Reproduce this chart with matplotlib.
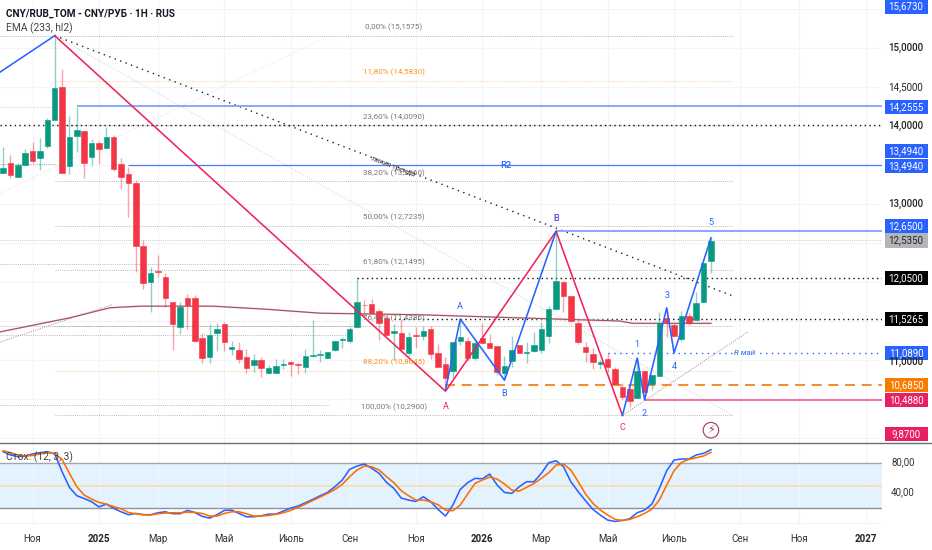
import matplotlib
matplotlib.use('Agg')
import matplotlib.pyplot as plt
from matplotlib.patches import Rectangle

plt.rcParams['font.family'] = ['Roboto', 'DejaVu Sans']

# weekly candles
opens = [13.40, 13.53, 13.35, 13.50, 13.68, 13.59, 13.74, 14.08, 14.50, 13.49, 13.87, 13.94, 13.60, 13.78, 13.72, 13.86,
         13.51, 13.38, 13.27, 12.46, 12.00, 12.14, 12.06, 11.74, 11.42, 11.80, 11.80, 11.28, 11.04, 11.35, 11.46, 11.14,
         11.13, 11.04, 10.94, 11.00, 10.83, 10.83, 10.94, 10.97, 10.95, 10.91, 11.05, 11.06, 11.03, 11.13, 11.26, 11.24,
         11.42, 11.71, 11.72, 11.63, 11.54, 11.35, 11.35, 11.09, 11.32, 11.31, 11.40, 11.09, 10.95, 10.86, 11.24, 11.24,
         11.03, 11.28, 11.22, 11.18, 10.83, 10.99, 11.19, 11.09, 11.12, 11.13, 11.31, 11.65, 12.00, 11.82, 11.47, 11.17,
         11.08, 10.95, 11.01, 10.89, 10.65, 10.63, 10.51, 10.86, 10.69, 10.80, 11.54, 11.45, 11.27, 11.56, 11.51, 11.74, 12.27]
highs = [13.73, 13.63, 13.53, 13.71, 13.80, 13.85, 14.10, 15.16, 14.73, 14.13, 14.24, 13.94, 13.83, 13.81, 13.99, 13.88,
         13.59, 13.47, 13.31, 12.54, 12.19, 12.35, 12.12, 11.74, 11.74, 11.85, 11.83, 11.35, 11.46, 11.47, 11.49, 11.24,
         11.23, 11.14, 11.08, 11.04, 10.94, 11.01, 11.01, 10.99, 10.96, 11.14, 11.51, 11.13, 11.10, 11.24, 11.30, 11.42,
         12.05, 11.77, 11.78, 11.65, 11.59, 11.46, 11.51, 11.36, 11.42, 11.44, 11.44, 11.21, 11.04, 11.23, 11.51, 11.30,
         11.24, 11.47, 11.33, 11.18, 11.05, 11.31, 11.19, 11.23, 11.36, 11.49, 11.69, 12.65, 12.01, 11.82, 11.51, 11.23,
         11.15, 11.00, 11.09, 10.91, 10.71, 10.65, 11.02, 10.86, 10.81, 11.62, 11.67, 11.47, 11.63, 11.60, 11.87, 12.24, 12.58]
lows = [13.40, 13.33, 13.35, 13.50, 13.53, 13.44, 13.72, 14.08, 13.40, 13.38, 13.67, 13.33, 13.50, 13.51, 13.72, 13.42,
        13.19, 12.83, 12.13, 11.91, 11.62, 12.06, 11.68, 11.13, 11.33, 11.40, 11.23, 10.96, 10.96, 11.12, 11.12, 11.06,
        10.96, 10.83, 10.85, 10.78, 10.82, 10.83, 10.89, 10.80, 10.82, 10.83, 11.04, 10.97, 11.03, 11.12, 11.15, 11.22,
        11.42, 11.55, 11.60, 11.26, 11.32, 11.00, 11.10, 11.05, 11.15, 11.26, 11.01, 10.91, 10.64, 10.77, 11.19, 10.99,
        11.00, 11.22, 11.15, 10.81, 10.74, 10.91, 11.09, 10.96, 11.10, 11.09, 11.22, 11.65, 11.62, 11.49, 11.21, 10.97,
        10.89, 10.89, 10.85, 10.68, 10.49, 10.40, 10.51, 10.49, 10.62, 10.80, 11.29, 11.30, 11.24, 11.45, 11.51, 11.74, 12.12]
closes = [13.46, 13.37, 13.50, 13.65, 13.55, 13.68, 14.08, 14.49, 13.40, 13.86, 13.95, 13.53, 13.78, 13.71, 13.86, 13.45,
          13.35, 13.27, 12.46, 11.99, 12.12, 12.13, 11.80, 11.46, 11.68, 11.71, 11.24, 11.03, 11.32, 11.40, 11.23, 11.17,
          11.01, 10.90, 11.00, 10.90, 10.90, 10.92, 10.95, 10.95, 10.94, 11.05, 11.06, 11.08, 11.10, 11.24, 11.27, 11.40,
          11.74, 11.70, 11.60, 11.47, 11.32, 11.37, 11.14, 11.30, 11.31, 11.37, 11.08, 10.91, 10.77, 11.23, 11.30, 11.03,
          11.22, 11.22, 11.15, 10.85, 10.92, 11.13, 11.09, 11.10, 11.19, 11.40, 11.65, 12.01, 11.82, 11.50, 11.23, 11.10,
          10.97, 10.97, 10.91, 10.69, 10.53, 10.47, 10.86, 10.59, 10.81, 11.47, 11.47, 11.31, 11.56, 11.47, 11.73, 12.24, 12.53]

ema_x = [-0.42, 9, 14.5, 18.6, 22.2, 28.5, 35.8, 43, 56.5, 70, 83.6, 85.4, 96]
ema_y = [11.36, 11.54, 11.67, 11.69, 11.69, 11.69, 11.65, 11.60, 11.58, 11.54, 11.50, 11.47, 11.47]

stoch_k = [95, 90.6, 88.4, 89, 92, 93.7, 95, 92, 68.5, 47.8, 36.7, 33, 28.8, 22, 25.7, 20, 15.5, 11.6, 13.3, 11.6, 11.6,
           14.2, 15.5, 12.9, 12.9, 17.3, 14.6, 9.4, 7.1, 11.6, 17.3, 17.7, 13.3, 8.9, 8.9, 10.2, 12.4, 12.4, 16.4, 20.4,
           23, 27.4, 31.9, 36.7, 41.1, 48.6, 57.5, 71.6, 76, 78.7, 73, 66.3, 54.4, 46.4, 33.6, 31, 29.2, 35.4, 28.8, 18.6,
           9.8, 24.4, 45, 54, 59.7, 59.2, 65.4, 50.9, 41.1, 39.8, 48.6, 55.3, 55.3, 66.3, 80.4, 83, 75.1, 55.3, 42, 30.1,
           18.6, 11.1, 4.5, 2.7, 4, 6.3, 14.2, 17.7, 25.7, 46.4, 69.8, 84, 85.3, 85.3, 90.6, 92.8, 97.6]
stoch_d = [96.3, 93.7, 90.6, 89.3, 90, 92, 93.7, 92.8, 84.8, 66.3, 48.6, 37.6, 32.3, 27.9, 25.7, 22.2, 19.5, 14.6, 12.9,
           11.6, 11.1, 12.9, 13.8, 14.2, 14.2, 15, 14.6, 13.3, 9.8, 9.8, 13.3, 15.5, 15.5, 12.9, 9.8, 9.8, 10.7, 12, 14.2,
           17.3, 21.3, 25.7, 30.5, 35, 39.8, 45, 51.7, 61.9, 70.7, 76, 75.1, 70.7, 61.9, 54, 43.3, 36.7, 31, 31, 28.8,
           24.8, 17.7, 16.9, 24.4, 38.9, 53, 57.5, 61.4, 58.8, 52.2, 44.2, 42.9, 47.8, 53, 59.7, 67.2, 77.3, 78.7, 70.7,
           55.3, 38.9, 26.6, 17.7, 11.1, 5.4, 4, 5.4, 8.9, 13.3, 19, 31, 50.9, 69.8, 80.9, 84.8, 87, 89.3, 94.1]

# x axis
tick_pos = [4, 13, 21, 30, 39, 47, 56, 65, 73, 82, 91, 100, 108, 117]
tick_labels = ['Ноя', '2025', 'Мар', 'Май', 'Июль', 'Сен', 'Ноя', '2026', 'Мар', 'Май', 'Июль', 'Сен', 'Ноя', '2027']
price_grid = [15.5, 15, 14.5, 14, 13.5, 13, 12.5, 12, 11.5, 11, 10.5, 10]

# fibonacci
fib_levels = [15.1575, 14.583, 14.009, 13.296, 12.7235, 12.1495, 11.4386, 10.8645, 10.29]
fib_labels = ['0,00% (15,1575)', '11,80% (14,5830)', '23,60% (14,0090)', '38,20% (13,2960)', '50,00% (12,7235)',
              '61,80% (12,1495)', '76,40% (11,4386)', '88,20% (10,8645)', '100,00% (10,2900)']
fib_line_colors = ['#adadad', '#ffc48a', '#adadad', '#adadad', '#adadad', '#adadad', '#adadad', '#ffc48a', '#adadad']
fib_text_colors = ['#777777', '#ff9020', '#777777', '#777777', '#777777', '#777777', '#777777', '#ff9020', '#777777']

# zigzags
red_x = [7, 60, 75, 84]
red_y = [15.1575, 10.60, 12.65, 10.29]
blue_x = [-0.42, 7]
blue_y = [14.69, 15.1575]
blue2_x = [60, 62, 68, 75]
blue2_y = [10.615, 11.525, 10.74, 12.65]
blue3_x = [84, 86, 87, 90, 91, 96]
blue3_y = [10.29, 11.025, 10.49, 11.67, 11.09, 12.565]

RED = '#f0245c'
BLUE = '#2962ff'
UP = '#089981'
DOWN = '#f23645'

xmin, xmax = -0.42, 119.2

fig = plt.figure(figsize=(9.32, 5.5), dpi=100)
ax = fig.add_axes([0, 107 / 550, 882 / 932, 443 / 550])
ax2 = fig.add_axes([0, 25 / 550, 882 / 932, 82 / 550])

# main pane
ax.set_xlim(xmin, xmax)
ax.set_ylim(9.936, 15.615)
ax.set_xticks(tick_pos)
ax.set_yticks(price_grid)
ax.grid(True, color='#f3f4f6', lw=0.8)
ax.set_axisbelow(True)
ax.tick_params(length=0, labelbottom=False, labelleft=False)
for s in ax.spines.values():
    s.set_visible(False)

gray_dot = (0, (1, 1.4))
for v, c in [(15.1575, '#adadad'), (14.24, '#f5b5c8'), (13.51, '#9a9a9a')]:
    ax.hlines(v, xmin, 7, color=c, lw=0.65, ls=gray_dot, zorder=1)
for v, stop in [(12.23, 44), (11.435, 48), (11.32, 47), (10.42, 44)]:
    ax.hlines(v, xmin, stop, color='#adadad', lw=0.65, ls=gray_dot, zorder=1)
ax.hlines(12.535, xmin, xmax, color='#c0c0c0', lw=0.65, ls=gray_dot, zorder=1)

for v, c in zip(fib_levels, fib_line_colors):
    ax.hlines(v, 7, 99, color=c, lw=0.65, ls=gray_dot, zorder=1)
for v, s, c in zip(fib_levels, fib_labels, fib_text_colors):
    ax.annotate(s, (53, v), xytext=(0, 5.8), textcoords='offset points', ha='center', va='center',
                fontsize=5.8, color=c, zorder=5)

# trend lines
ax.plot([7, 99], [15.1575, 10.29], color='#d4d4d4', lw=0.7, ls=gray_dot, zorder=1)
ax.plot([-0.42, 43], [13.14, 15.10], color='#e2e2e2', lw=0.7, ls=gray_dot, zorder=1)
ax.plot([-0.42, 14.8], [11.23, 11.71], color='#909090', lw=0.7, ls=gray_dot, zorder=1)
ax.plot([84, 101], [10.29, 11.36], color='#909090', lw=0.7, ls=gray_dot, zorder=1)
ax.plot([7, 99], [15.1575, 11.82], color='#222222', lw=1.0, ls=(0, (1, 3.2)), zorder=2)

# levels
ax.hlines(14.009, xmin, xmax, color='#111111', lw=1.0, ls=(0, (1, 2.4)), zorder=2)
ax.hlines(12.05, 48, xmax, color='#111111', lw=1.0, ls=(0, (1, 2.4)), zorder=2)
ax.hlines(11.5265, 53, xmax, color='#111111', lw=1.0, ls=(0, (1, 2.4)), zorder=2)
ax.hlines(14.2555, 10, xmax, color='#8aa6ff', lw=1.4, zorder=2)
ax.hlines(13.494, 17, xmax, color='#4a7bff', lw=0.9, zorder=2)
ax.hlines(12.65, 75, xmax, color='#8aa6ff', lw=1.4, zorder=2)
ax.hlines(11.089, 82, xmax, color=BLUE, lw=1.0, ls=(0, (1, 3.2)), zorder=2)
ax.hlines(10.685, 60, xmax, color='#f57c00', lw=1.2, ls=(0, (6, 4)), zorder=2)
ax.hlines(10.488, 87, xmax, color='#ef4f7f', lw=1.1, zorder=2)

ax.plot(ema_x, ema_y, color='#d8cfcf', lw=1.3, zorder=2)
ax.plot(ema_x, ema_y, color='#a84a56', lw=0.75, zorder=2)

# candles
for i, (o, h, l, c) in enumerate(zip(opens, highs, lows, closes)):
    col = UP if c >= o else DOWN
    ax.vlines(i, l, h, color=col, lw=1.0, alpha=0.45, zorder=3)
    ax.bar(i, abs(c - o), bottom=min(o, c), width=0.74, color=col, edgecolor=col, lw=0.4, zorder=3)

ax.plot(red_x, red_y, color=RED, lw=1.15, zorder=4)
ax.plot(blue_x, blue_y, color=BLUE, lw=1.15, zorder=4)
ax.plot(blue2_x, blue2_y, color=BLUE, lw=1.15, zorder=4)
ax.plot(blue3_x, blue3_y, color=BLUE, lw=1.15, zorder=4)

for s, x, y, c in [('A', 60, 10.41, RED), ('A', 62, 11.69, BLUE), ('B', 68, 10.565, BLUE), ('B', 75, 12.82, RED),
                   ('B', 75, 12.82, BLUE), ('C', 84, 10.14, RED), ('1', 86, 11.205, BLUE), ('2', 87, 10.32, BLUE),
                   ('3', 90, 11.83, BLUE), ('4', 91, 10.92, BLUE), ('5', 96, 12.76, BLUE)]:
    ax.text(x, y, s, color=c, fontsize=6.5, ha='center', va='center', zorder=5)
ax.text(68.2, 13.49, 'R2', color=BLUE, fontsize=6.8, fontweight='medium', ha='center', va='center', zorder=5)
ax.text(100.6, 11.09, 'R май', color=BLUE, fontsize=5.8, style='italic', ha='center', va='center', zorder=5,
        bbox=dict(fc='white', ec='none', pad=1))
ax.text(52.9, 13.47, 'линия тренда', color='#444444', fontsize=5.2, rotation=-21, ha='center', va='center', zorder=5)
ax.text(96, 10.10, '⚡', family='DejaVu Sans', color='#9c3b55', fontsize=8, ha='center', va='center', zorder=5,
        bbox=dict(boxstyle='circle,pad=0.25', fc='white', ec='#9c3b55', lw=0.8))

# stochastic pane
ax2.set_xlim(xmin, xmax)
ax2.set_ylim(-2, 106.5)
ax2.axhspan(20, 80, color='#e3f2fd', lw=0, zorder=0)
ax2.axhline(80, color='#a3a6ad', lw=1.0, zorder=1)
ax2.axhline(20, color='#8f929a', lw=1.0, zorder=1)
ax2.axhline(50, color='#f5deb3', lw=1.2, zorder=1)
ax2.plot(stoch_k, color=BLUE, lw=1.15, zorder=3)
ax2.plot(stoch_d, color='#ff6d00', lw=1.15, zorder=3)
ax2.set_xticks(tick_pos)
ax2.set_xticklabels(tick_labels, fontsize=7, color='#333333')
for lab in ax2.get_xticklabels():
    if lab.get_text().isdigit():
        lab.set_fontweight('bold')
        lab.set_color('#222222')
ax2.set_yticks([0])
ax2.grid(True, color='#f3f4f6', lw=0.8)
ax2.set_axisbelow(True)
ax2.tick_params(length=0, labelleft=False, pad=6.5)
for s in ax2.spines.values():
    s.set_visible(False)

# separator and header text
fig.add_artist(plt.Line2D([0, 1], [1 - 442.5 / 550] * 2, color='#6a6d75', lw=1.0))


def ptext(px, py, s, **kw):
    fig.text(px / 932, 1 - py / 550, s, va='center', **kw)


ptext(6, 14, 'CNY/RUB_TOM - CNY/РУБ · 1H · RUS', fontsize=7.2, fontweight='bold', color='#131722')
ptext(6, 28, 'EMA (233, hl2)', fontsize=7.4, color='#444444')
ptext(6, 457, 'Стох. (12, 3, 3)', fontsize=7.4, color='#444444')

# price axis
for s, y, w in [('15,0000', 48, 'medium'), ('14,5000', 87, 'normal'), ('14,0000', 126, 'medium'),
                ('13,0000', 204, 'medium'), ('11,0000', 362, 'medium')]:
    ptext(906, y, s, fontsize=7, ha='center', color='#222222', fontweight=w)
for s, y in [('80,00', 462), ('40,00', 492)]:
    ptext(903, y, s, fontsize=7, ha='center', color='#333333')

boxes = [('15,6730', 6.5, BLUE, 'white'), ('14,2555', 107, BLUE, 'white'), ('13,4940', 151, BLUE, 'white'),
         ('13,4940', 166, BLUE, 'white'), ('12,6500', 226, BLUE, 'white'), ('12,5350', 240.5, '#b2b5b9', '#222222'),
         ('12,0500', 278, '#000000', 'white'), ('11,5265', 319, '#000000', 'white'), ('11,0890', 353, BLUE, 'white'),
         ('10,6850', 385, '#f57c00', 'white'), ('10,4880', 400, '#e91e63', 'white'), ('9,8700', 434, '#e91e63', 'white')]
for s, y, bg, fg in boxes:
    fig.add_artist(Rectangle((885 / 932, 1 - (y + 7) / 550), 43 / 932, 14 / 550, transform=fig.transFigure,
                             fc=bg, ec='none'))
    ptext(906, y, s, fontsize=7, ha='center', color=fg)

fig.savefig('out.png', dpi=100)
